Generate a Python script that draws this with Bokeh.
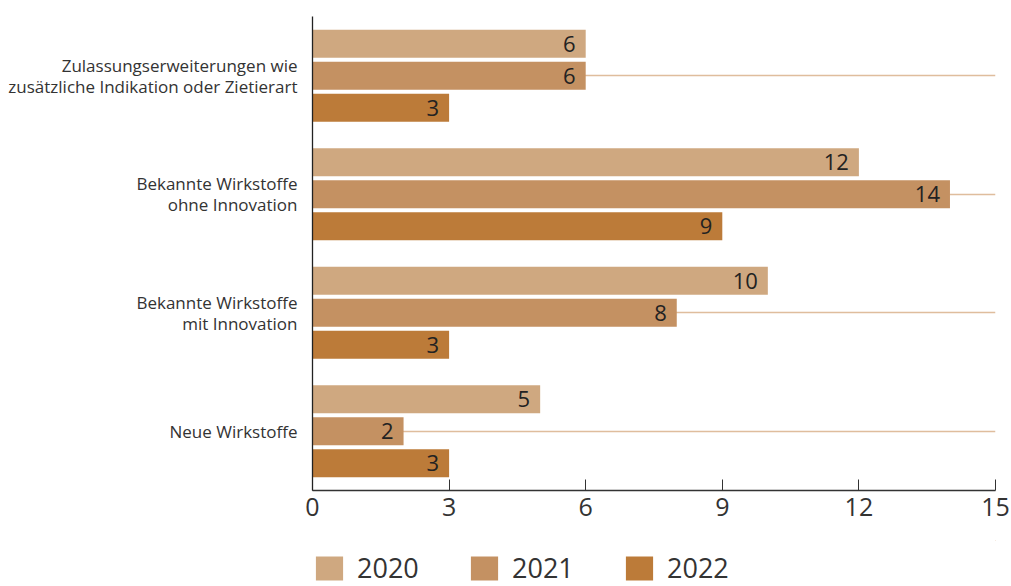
from bokeh.plotting import figure
from bokeh.layouts import column
from bokeh.models import ColumnDataSource, FactorRange, Range1d, Legend, LegendItem, LabelSet, FixedTicker
from bokeh.transform import dodge
from bokeh.core.properties import value
from bokeh.embed import file_html
from bokeh.resources import INLINE

categories = [
    "Neue Wirkstoffe",
    "Bekannte Wirkstoffe\nmit Innovation",
    "Bekannte Wirkstoffe\nohne Innovation",
    "Zulassungserweiterungen wie\nzusätzliche Indikation oder Zietierart",
]
years = ["2020", "2021", "2022"]
values_2020 = [5, 10, 12, 6]
values_2021 = [2, 8, 14, 6]
values_2022 = [3, 3, 9, 3]
x_ticks = [0, 3, 6, 9, 12, 15]

colors = ["#cfa880", "#c49162", "#bc7b39"]
offsets = [0.27, 0.0, -0.27]
series = [values_2020, values_2021, values_2022]

p = figure(
    width=1011, height=540,
    y_range=FactorRange(factors=categories, range_padding=0),
    x_range=Range1d(0, 15),
    output_backend="svg", toolbar_location=None,
    min_border_left=312, min_border_right=16, min_border_top=16, min_border_bottom=50,
)
p.outline_line_color = None

for yr, vals, col, off in zip(years, series, colors, offsets):
    src = ColumnDataSource(dict(cat=categories, val=vals, lab=[str(v) for v in vals]))
    p.hbar(y=dodge("cat", off, range=p.y_range), right="val", left=0, height=0.237,
           source=src, fill_color=col, line_color=None)
    lbl = LabelSet(x="val", y=dodge("cat", off, range=p.y_range), text="lab", source=src,
                   x_offset=-10, text_align="right", text_baseline="middle",
                   text_font=value("Open Sans"), text_font_size="22px", text_color="#222222")
    p.add_layout(lbl)

# grid
p.xgrid.grid_line_color = None
p.ygrid.grid_line_color = "#dfbd9d"
p.ygrid.grid_line_width = 1.5

# x axis
p.xaxis.ticker = FixedTicker(ticks=x_ticks)
p.xaxis.axis_line_color = "#333333"
p.xaxis.axis_line_width = 1.3
p.xaxis.major_tick_line_color = "#333333"
p.xaxis.major_tick_in = 11
p.xaxis.major_tick_out = 0
p.xaxis.minor_tick_line_color = None
p.xaxis.major_label_text_font = "Open Sans"
p.xaxis.major_label_text_font_size = "25px"
p.xaxis.major_label_text_color = "#333333"
p.xaxis.major_label_standoff = 7

# y axis
p.yaxis.axis_line_color = "#222222"
p.yaxis.axis_line_width = 1.3
p.yaxis.major_tick_line_color = None
p.yaxis.minor_tick_line_color = None
p.yaxis.major_label_text_font = "Open Sans"
p.yaxis.major_label_text_font_size = "17px"
p.yaxis.major_label_text_color = "#333333"
p.yaxis.major_label_text_line_height = 0.93
p.yaxis.major_label_standoff = 9

# legend figure
p2 = figure(
    width=1011, height=46, x_range=Range1d(0, 1), y_range=Range1d(0, 1),
    output_backend="svg", toolbar_location=None,
    x_axis_location=None, y_axis_location=None,
    min_border_left=312, min_border_right=0, min_border_top=0, min_border_bottom=0,
)
p2.outline_line_color = None
p2.grid.grid_line_color = None
leg_renderers = []
for col in colors:
    r = p2.hbar(y=[5], right=[5], left=4, height=0.5, fill_color=col, line_color=None)
    leg_renderers.append(r)

legend = Legend(
    items=[LegendItem(label=y, renderers=[r]) for y, r in zip(years, leg_renderers)],
    orientation="horizontal", location="bottom_left",
    glyph_width=34, glyph_height=30, label_standoff=11, label_width=110, spacing=0,
    label_text_font="Open Sans", label_text_font_size="27px",
    label_text_color="#333333", border_line_color=None, background_fill_alpha=0,
    padding=0, margin=0,
)
p2.add_layout(legend, "center")

layout = column(p, p2, spacing=0)
open("out.html", "w").write(file_html(layout, INLINE))
